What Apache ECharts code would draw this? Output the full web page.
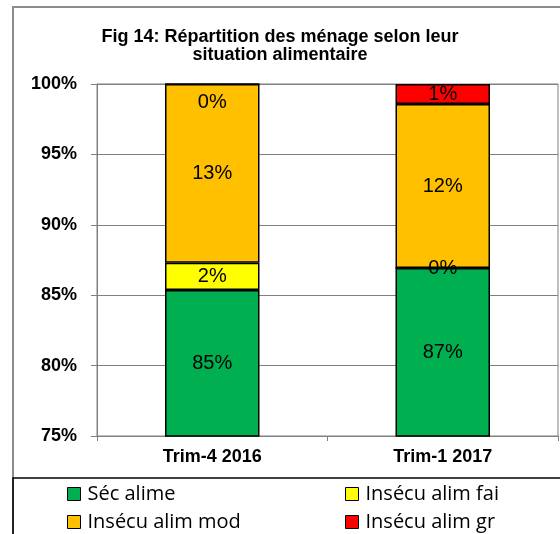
<!DOCTYPE html>
<html>
<head>
<meta charset="utf-8">
<script src="https://cdn.jsdelivr.net/npm/echarts@6/dist/echarts.min.js"></script>
<style>
  html, body { margin: 0; padding: 0; background: #fff; }
  #chart { width: 560px; height: 534px; }
</style>
</head>
<body>
<div id="chart"></div>
<script>
// categories and values (percent of households)
const periods = ['Trim-4 2016', 'Trim-1 2017'];
const secAlime = [85.37, 86.93];
const insecuFai = [1.93, 0];
const insecuMod = [12.7, 11.65];
const insecuGr = [0, 1.42];
const seriesNames = ['Séc alime', 'Insécu alim fai', 'Insécu alim mod', 'Insécu alim gr'];
const colors = ['#00B050', '#FFFF00', '#FFC000', '#FF0000'];

const chart = echarts.init(document.getElementById('chart'));

const labelStyle = {
  show: true,
  position: 'inside',
  color: '#000',
  fontFamily: 'Liberation Sans, Arial, sans-serif',
  fontSize: 20,
  formatter: p => Math.round(p.value) + '%'
};

const makeSeries = (name, values, color, zeroBelow) => ({
  name: name,
  type: 'bar',
  stack: 'total',
  barWidth: '41%',
  itemStyle: { color: color, borderColor: '#000', borderWidth: 1.5 },
  label: labelStyle,
  data: values.map(v => (zeroBelow && v === 0) ? { value: v, label: { position: 'bottom', distance: 8 } } : v)
});

// two legend columns, two rows each
const legendText = { fontFamily: 'Open Sans, Noto Sans, sans-serif', fontSize: 20, lineHeight: 20, color: '#000', padding: [0, 0, 0, 2] };
const legendBase = {
  orient: 'vertical',
  top: 484,
  padding: 0,
  itemWidth: 13,
  itemHeight: 13,
  itemGap: 8,
  icon: 'rect',
  textStyle: legendText,
  itemStyle: { borderColor: '#000', borderWidth: 1 },
  selectedMode: false
};

chart.setOption({
  animation: false,
  title: {
    text: 'Fig 14: Répartition des ménage selon leur\nsituation alimentaire',
    left: 'center',
    top: 28,
    padding: [0, 0, 0, 14],
    textStyle: {
      fontFamily: 'Liberation Sans, Arial, sans-serif',
      fontSize: 18,
      fontWeight: 'bold',
      lineHeight: 18,
      color: '#000'
    }
  },
  legend: [
    Object.assign({ left: 67, data: [seriesNames[0], seriesNames[2]] }, legendBase),
    Object.assign({ left: 345, data: [seriesNames[1], seriesNames[3]] }, legendBase)
  ],
  grid: {
    left: 97, right: 2, top: 84, bottom: 98,
    show: true, borderColor: '#808080', borderWidth: 1
  },
  xAxis: {
    type: 'category',
    data: periods,
    axisLine: { lineStyle: { color: '#808080' } },
    axisTick: { show: true, length: 5, lineStyle: { color: '#808080' } },
    axisLabel: {
      color: '#000', fontWeight: 'bold', fontSize: 18, margin: 12,
      fontFamily: 'Liberation Sans, Arial, sans-serif'
    }
  },
  yAxis: {
    type: 'value',
    min: 75,
    max: 100,
    interval: 5,
    axisLine: { show: true, lineStyle: { color: '#808080' } },
    axisTick: { show: true, length: 6, lineStyle: { color: '#808080' } },
    splitLine: { lineStyle: { color: '#808080' } },
    axisLabel: {
      formatter: '{value}%', color: '#000', fontWeight: 'bold', fontSize: 18, margin: 20,
      fontFamily: 'Liberation Sans, Arial, sans-serif'
    }
  },
  graphic: [
    { type: 'rect', shape: { x: 13, y: 7, width: 600, height: 600 }, style: { fill: 'none', stroke: '#8c8c8c', lineWidth: 2 }, silent: true },
    { type: 'rect', shape: { x: 13, y: 478, width: 600, height: 100 }, style: { fill: 'none', stroke: '#000', lineWidth: 1.5 }, silent: true }
  ],
  series: [
    makeSeries(seriesNames[0], secAlime, colors[0]),
    makeSeries(seriesNames[1], insecuFai, colors[1]),
    makeSeries(seriesNames[2], insecuMod, colors[2]),
    makeSeries(seriesNames[3], insecuGr, colors[3], true)
  ]
});
</script>
</body>
</html>
